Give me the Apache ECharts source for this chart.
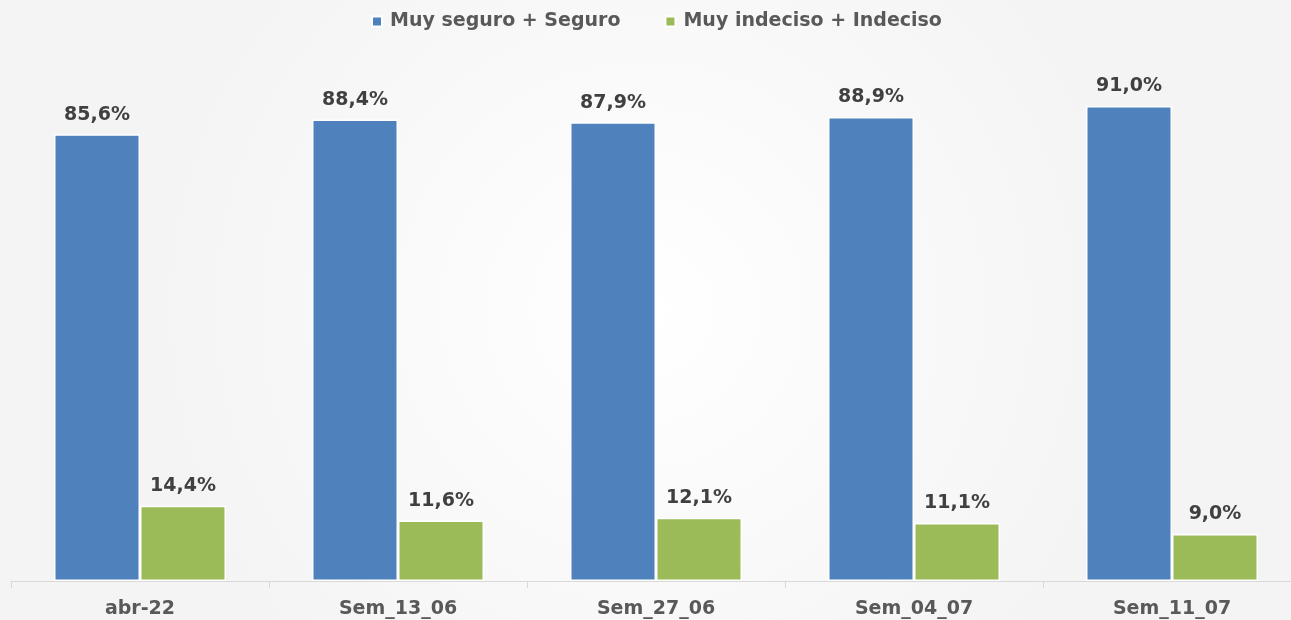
<!DOCTYPE html>
<html>
<head>
<meta charset="utf-8">
<script src="https://cdn.jsdelivr.net/npm/echarts@6/dist/echarts.min.js"></script>
<style>
  html, body { margin: 0; padding: 0; }
  #chart { width: 1291px; height: 620px; }
</style>
</head>
<body>
<div id="chart"></div>
<script>
  // datos
  var categories = ["abr-22", "Sem_13_06", "Sem_27_06", "Sem_04_07", "Sem_11_07"];
  var seguro = [85.6, 88.4, 87.9, 88.9, 91.0];
  var indeciso = [14.4, 11.6, 12.1, 11.1, 9.0];
  var seriesNames = ["Muy seguro + Seguro", "Muy indeciso + Indeciso"];

  var myChart = echarts.init(document.getElementById("chart"));

  var FONT = "DejaVu Sans";

  function fmt(p) {
    return p.value.toFixed(1).replace(".", ",") + "%";
  }

  var labelStyle = {
    show: true,
    position: "top",
    distance: 10,
    formatter: fmt,
    color: "#404040",
    fontSize: 19,
    fontWeight: "bold",
    fontFamily: FONT
  };

  var option = {
    backgroundColor: {
      type: "radial",
      x: 0.5, y: 0.5, r: 0.8,
      colorStops: [
        { offset: 0, color: "#ffffff" },
        { offset: 1, color: "#f4f4f4" }
      ]
    },
    color: ["#4f81bd", "#9bbb59"],
    legend: {
      top: 7,
      left: 366,
      itemWidth: 10,
      itemHeight: 10,
      itemGap: 44,
      icon: "rect",
      textStyle: {
        color: "#595959",
        fontSize: 19,
        fontWeight: "bold",
        fontFamily: FONT,
        padding: [0, 0, 0, 3]
      }
    },
    grid: {
      left: 11,
      right: -10,
      top: 59,
      bottom: 39,
      outerBoundsMode: "none"
    },
    xAxis: {
      type: "category",
      data: categories,
      axisLine: { lineStyle: { color: "#d9d9d9", width: 1 } },
      axisTick: { show: true, length: 7, lineStyle: { color: "#d9d9d9" } },
      axisLabel: {
        color: "#595959",
        fontSize: 19,
        fontWeight: "bold",
        fontFamily: FONT,
        margin: 19
      }
    },
    yAxis: {
      type: "value",
      min: 0,
      max: 100,
      show: false,
      splitLine: { show: false }
    },
    series: [
      {
        name: seriesNames[0],
        type: "bar",
        data: seguro,
        barWidth: 86,
        barGap: "0%",
        itemStyle: { borderColor: "#ffffff", borderWidth: 1.5 },
        label: labelStyle
      },
      {
        name: seriesNames[1],
        type: "bar",
        data: indeciso,
        barWidth: 86,
        itemStyle: { borderColor: "#ffffff", borderWidth: 1.5 },
        label: labelStyle
      }
    ]
  };

  myChart.setOption(option);
</script>
</body>
</html>
